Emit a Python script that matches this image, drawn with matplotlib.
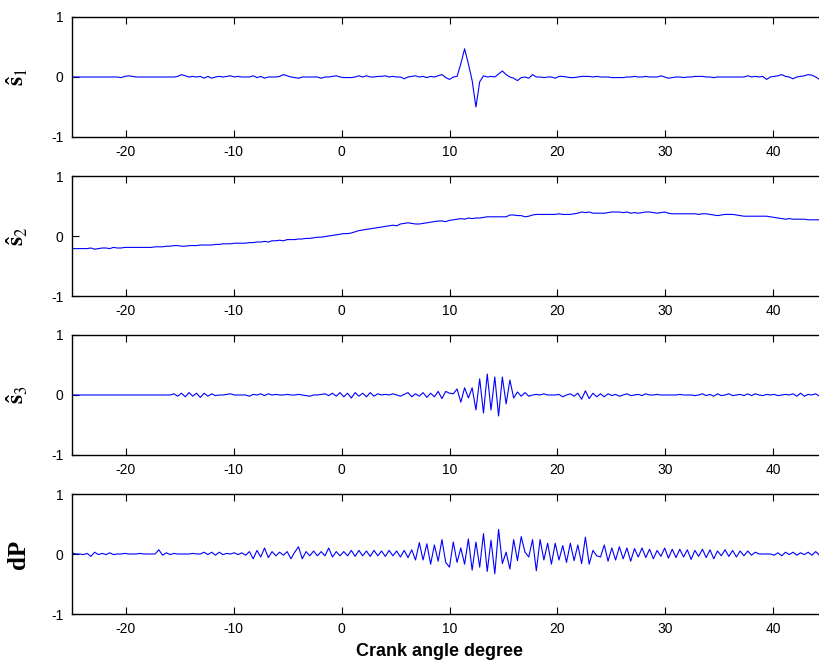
import numpy as np
import matplotlib
matplotlib.use("Agg")
import matplotlib.pyplot as plt

plt.rcParams['font.family'] = ['Liberation Sans', 'DejaVu Sans']
plt.rcParams['mathtext.fontset'] = 'stix'
plt.rcParams['axes.unicode_minus'] = False

# crank angle grid (deg), one sample every 0.35 deg
angle = np.arange(200) * 0.35 - 25

# component 1
s1 = [
    0, 0, 0, 0, 0, 0, 0, 0, 0, 0, 0, 0, 0, -0.01, 0.01, 0.02, 0.01, 0, 0, 0,
    0, 0, 0, 0, 0, 0, 0, 0, 0.01, 0.04, 0.02, 0.0, 0.01, 0.0, 0.01, -0.02, 0.01, -0.02, 0.0, 0.01,
    0.0, 0.01, 0.02, 0.0, 0.01, 0.0, 0.0, 0.0, 0.02, -0.01, 0.01, -0.02, 0.0, 0.0, 0.0, 0.01, 0.04, 0.02, 0.0, -0.01,
    -0.02, 0.0, 0.0, 0.0, 0.0, 0.0, -0.02, 0.0, 0.0, 0.01, 0.02, 0.0, -0.01, -0.01, -0.01, 0.0, 0.02, 0.0, 0.02, 0.0,
    0.0, 0.01, 0.01, 0.02, 0.0, 0.01, 0.0, 0.0, -0.03, 0.0, 0.01, 0.02, 0.0, 0.01, -0.01, 0.01, 0.0, 0.02, 0.04, -0.01,
    -0.04, 0.0, 0.01, 0.22, 0.47, 0.22, -0.06, -0.5, -0.08, 0.02, 0.0, 0.01, 0.0, 0.05, 0.1, 0.04, 0.0, -0.02, -0.06, -0.01,
    0.0, -0.02, 0.04, 0.0, 0.0, -0.01, 0.0, 0.0, -0.02, 0.01, 0.01, 0.0, -0.01, -0.01, 0.0, 0.01, 0.01, 0.01, 0.0, 0.01,
    0.0, 0.0, 0.0, -0.01, -0.01, -0.01, -0.01, 0.0, 0.0, 0.01, 0.0, 0.0, 0.01, 0.0, 0.0, 0.0, 0.02, 0.0, -0.02, -0.01,
    0.0, 0.0, -0.01, 0.0, 0.0, 0.01, 0.01, 0.01, 0.0, 0.0, -0.01, 0.0, 0.0, 0.0, 0.0, 0.0, 0.0, 0.0, 0.0, 0.02,
    0.0, 0.01, 0.0, 0.01, -0.04, 0.0, 0.01, 0.02, 0.04, 0.01, 0.0, -0.03, 0.0, 0.01, 0.02, 0.04, 0.03, 0.0, -0.04, -0.03,
]

# component 2 (slow trend)
s2 = [
    -0.21, -0.21, -0.21, -0.21, -0.21, -0.2, -0.22, -0.21, -0.2, -0.2, -0.21, -0.19, -0.2, -0.2, -0.19, -0.19, -0.19, -0.19, -0.19, -0.19,
    -0.19, -0.19, -0.18, -0.18, -0.18, -0.17, -0.17, -0.16, -0.16, -0.17, -0.17, -0.16, -0.16, -0.16, -0.15, -0.15, -0.15, -0.15, -0.14, -0.14,
    -0.13, -0.13, -0.13, -0.12, -0.12, -0.12, -0.12, -0.11, -0.11, -0.1, -0.1, -0.09, -0.1, -0.08, -0.08, -0.07, -0.08, -0.06, -0.06, -0.06,
    -0.05, -0.05, -0.04, -0.04, -0.03, -0.02, -0.02, -0.01, 0.0, 0.01, 0.02, 0.03, 0.04, 0.04, 0.05, 0.07, 0.09, 0.1, 0.11, 0.12,
    0.13, 0.14, 0.15, 0.16, 0.17, 0.18, 0.17, 0.2, 0.21, 0.22, 0.21, 0.2, 0.2, 0.21, 0.22, 0.23, 0.24, 0.25, 0.25, 0.24,
    0.26, 0.27, 0.28, 0.29, 0.28, 0.3, 0.29, 0.3, 0.3, 0.31, 0.32, 0.32, 0.32, 0.32, 0.32, 0.32, 0.35, 0.35, 0.34, 0.34,
    0.32, 0.33, 0.35, 0.36, 0.36, 0.36, 0.36, 0.36, 0.36, 0.37, 0.36, 0.36, 0.36, 0.37, 0.38, 0.4, 0.39, 0.4, 0.38, 0.38,
    0.38, 0.38, 0.39, 0.4, 0.4, 0.4, 0.39, 0.4, 0.38, 0.39, 0.38, 0.39, 0.4, 0.4, 0.39, 0.38, 0.39, 0.4, 0.38, 0.37,
    0.37, 0.37, 0.37, 0.37, 0.37, 0.37, 0.36, 0.37, 0.37, 0.36, 0.35, 0.34, 0.35, 0.36, 0.36, 0.36, 0.35, 0.34, 0.33, 0.33,
    0.33, 0.33, 0.33, 0.33, 0.33, 0.32, 0.31, 0.3, 0.29, 0.28, 0.29, 0.28, 0.28, 0.28, 0.28, 0.27, 0.27, 0.27, 0.27, 0.27,
]

# component 3 (burst)
s3 = [
    0, 0, 0, 0, 0, 0, 0, 0, 0, 0, 0, 0, 0, 0, 0, 0, 0, 0, 0, 0,
    0, 0, 0, 0, 0, 0, 0, 0.02, -0.02, 0.03, -0.03, 0.04, -0.02, 0.03, -0.04, 0.03, -0.02, 0.02, -0.01, 0.0,
    0.0, 0.01, 0.02, 0.0, 0.0, 0.0, 0.0, -0.02, 0.01, 0.0, 0.02, -0.01, 0.02, 0.0, 0.01, 0.0, 0.0, 0.01, 0.0, 0.0,
    0.01, 0.0, -0.01, -0.02, 0.0, 0.0, 0.01, 0.02, -0.01, 0.03, -0.02, 0.04, -0.03, 0.03, -0.05, 0.04, -0.02, 0.03, -0.03, 0.04,
    -0.02, 0.02, 0.0, 0.01, 0.0, 0.02, 0.0, -0.02, 0.01, 0.04, -0.03, 0.02, -0.02, 0.04, -0.04, 0.03, -0.03, 0.06, -0.06, 0.06,
    0.03, 0.02, 0.1, -0.12, 0.12, -0.05, 0.12, -0.25, 0.27, -0.3, 0.35, -0.25, 0.3, -0.35, 0.3, -0.15, 0.25, -0.05, 0.05, -0.02,
    0.04, -0.02, 0.0, 0.01, 0.0, 0.02, 0.0, 0.0, 0.0, 0.01, -0.03, 0.0, 0.02, -0.02, 0.03, -0.07, 0.07, -0.06, 0.03, -0.03,
    0.02, -0.03, 0.02, -0.01, 0.01, -0.02, 0.0, 0.02, -0.01, 0.0, 0.01, -0.01, 0.02, 0.0, 0.0, 0.01, 0.0, 0.0, 0.0, 0.0,
    0.0, 0.01, 0.0, 0.0, 0.0, -0.01, 0.0, 0.02, -0.01, 0.01, -0.02, 0.02, -0.01, 0.0, 0.02, -0.01, 0.0, 0.01, -0.01, 0.02,
    -0.01, 0.02, 0.0, -0.01, 0.01, 0.0, 0.01, -0.01, 0.0, 0.01, 0.0, 0.02, -0.02, 0.03, -0.02, 0.01, 0.0, 0.02, -0.02, 0.0,
]

# pressure difference
dP = [
    0.02, 0.0, 0.0, -0.01, 0.01, -0.04, 0.03, -0.01, 0.01, -0.01, 0.02, -0.01, 0.0, 0.0, 0.01, 0.0, 0.0, 0.0, 0.01, 0.0,
    0.0, 0.0, 0.0, 0.07, -0.02, 0.02, -0.01, 0.01, 0.0, 0.0, 0.0, 0.0, 0.01, 0.0, 0.0, 0.03, -0.01, 0.03, -0.02, 0.03,
    -0.01, 0.01, 0.0, 0.02, -0.01, 0.02, -0.02, 0.04, -0.08, 0.06, -0.05, 0.1, -0.06, 0.04, -0.03, 0.03, -0.02, 0.04, -0.08, 0.03,
    0.12, -0.08, 0.04, -0.03, 0.05, -0.03, 0.04, -0.03, 0.1, -0.05, 0.04, -0.03, 0.04, -0.03, 0.06, -0.04, 0.06, -0.03, 0.05, -0.04,
    0.06, -0.03, 0.05, -0.04, 0.06, -0.03, 0.05, -0.05, 0.06, -0.06, 0.07, -0.1, 0.19, -0.1, 0.17, -0.17, 0.15, -0.12, 0.24, -0.14,
    -0.22, 0.2, -0.14, 0.1, -0.17, 0.25, -0.27, 0.2, -0.22, 0.34, -0.29, 0.23, -0.33, 0.41, -0.16, 0.03, -0.25, 0.24, -0.11, 0.29,
    0.03, -0.05, 0.24, -0.28, 0.24, -0.1, 0.18, -0.17, 0.18, -0.1, 0.14, -0.14, 0.18, -0.11, 0.15, -0.16, 0.28, -0.17, 0.06, -0.03,
    -0.05, 0.15, -0.12, 0.1, -0.1, 0.12, -0.08, 0.1, -0.12, 0.09, -0.05, 0.1, -0.06, 0.08, -0.08, 0.06, -0.04, 0.1, -0.07, 0.08,
    -0.06, 0.08, -0.05, 0.07, -0.09, 0.06, -0.04, 0.08, -0.06, 0.07, -0.08, 0.05, -0.03, 0.07, -0.04, 0.06, -0.05, 0.05, -0.03, 0.05,
    -0.02, 0.03, 0.0, 0.0, 0.0, 0.0, -0.02, 0.02, -0.03, 0.03, -0.01, 0.03, -0.02, 0.02, -0.01, 0.03, -0.02, 0.04, -0.02, 0.01,
]

series = [s1, s2, s3, dP]
labels = [r'$\mathbf{\hat{s}}_{1}$', r'$\mathbf{\hat{s}}_{2}$', r'$\mathbf{\hat{s}}_{3}$', 'dP']

fig = plt.figure(figsize=(8.19, 6.66), dpi=100)

W, H = 819.0, 666.0
left, right = 72, 827
tops = [17, 176, 335, 494]
height = 120

for k in range(4):
    ax = fig.add_axes([left / W, 1 - (tops[k] + height) / H, (right - left) / W, height / H])
    ax.plot(angle, series[k], color='#0000ff', lw=0.8)
    ax.set_xlim(-25, 45)
    ax.set_ylim(-1, 1)
    ax.set_xticks([-20, -10, 0, 10, 20, 30, 40])
    ax.set_yticks([-1, 0, 1])
    ax.tick_params(direction='in', top=True, right=True, length=5, width=0.8, labelsize=10, pad=6)
    for sp in ax.spines.values():
        sp.set_linewidth(1.0)
    if k < 3:
        ax.set_ylabel(labels[k], fontsize=17, rotation=90)
    else:
        ax.set_ylabel(labels[k], fontsize=18, fontweight='bold', family='Liberation Serif', rotation=90)
    ax.yaxis.set_label_coords(-0.055, 0.5)

fig.text(440 / W, 1 - 652 / H, 'Crank angle degree', ha='center', va='center',
         fontsize=13, fontweight='bold')

fig.savefig('out.png', dpi=100)
